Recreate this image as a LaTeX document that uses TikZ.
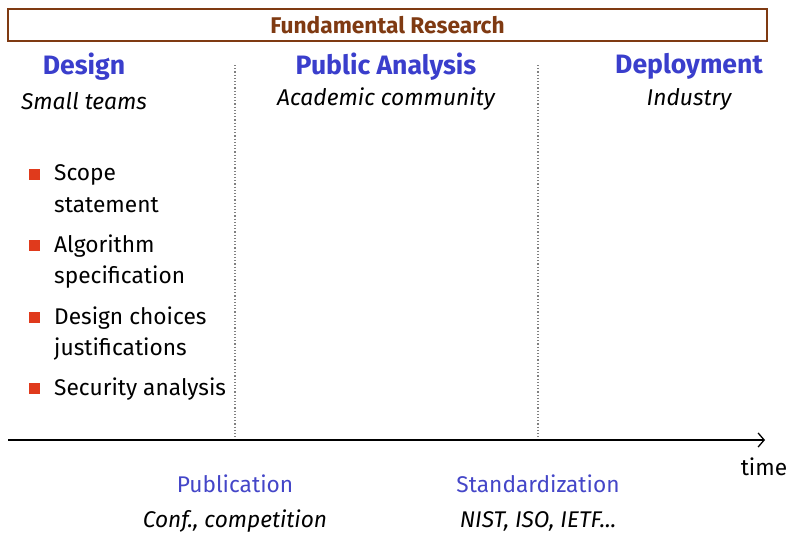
\documentclass[tikz,border=0pt]{standalone}
\usepackage{fontspec}
\setmainfont{Fira Sans}
\usetikzlibrary{arrows.meta}
\definecolor{brownc}{HTML}{7F3A12}
\definecolor{bluec}{HTML}{3A3ECC}
\definecolor{pubblue}{HTML}{4446C8}
\definecolor{redc}{HTML}{E03A1C}
\begin{document}
\begin{tikzpicture}[x=1pt,y=-1pt,
  phase/.style={font=\fontsize{26.6}{30}\selectfont\bfseries, text=bluec, inner sep=0pt},
  actor/.style={font=\fontsize{22.8}{26}\selectfont\itshape, inner sep=0pt},
  item/.style={font=\fontsize{22.7}{26}\selectfont, anchor=base west, inner sep=0pt},
  bul/.style={fill=redc, minimum size=11pt, inner sep=0pt},
  milestone/.style={font=\fontsize{22.7}{26}\selectfont, text=pubblue, inner sep=0pt},
  who/.style={font=\fontsize{22.7}{26}\selectfont\itshape, inner sep=0pt},
  sep/.style={dotted, gray, line width=1.2pt}]
\useasboundingbox (0,0) rectangle (790,533);
\node[draw=brownc, line width=1.5pt, minimum width=759pt, minimum height=32pt, inner sep=0pt,
  font=\fontsize{22.7}{26}\selectfont\bfseries, text=brownc] (fr) at (387.5,25) {Fundamental Research};
\node[phase] (design) at (84,66.5) {Design};
\node[phase] (public) at (386,66.5) {Public Analysis};
\node[phase] (deploy) at (689,66.5) {Deployment};
\node[actor] (small) at (84,101) {Small teams};
\node[actor] (acad) at (386,99.5) {Academic community};
\node[actor] (ind) at (689,99.5) {Industry};
\coordinate (s1t) at (235,65);
\coordinate (s1b) at (235,440);
\coordinate (s2t) at (538,65);
\coordinate (s2b) at (538,440);
\draw[sep] (s1t) -- (s1b);
\draw[sep] (s2t) -- (s2b);
\coordinate (ax0) at (8,440);
\coordinate (ax1) at (765,440);
\draw[line width=1.3pt, -{Straight Barb[length=6pt,width=14pt]}] (ax0) -- (ax1);
\node[font=\fontsize{22.7}{26}\selectfont, inner sep=0pt] (time) at (764,467) {time};
\node[bul] (b1) at (34,174) {};
\node[bul] (b2) at (34,245) {};
\node[bul] (b3) at (34,317) {};
\node[bul] (b4) at (34,388) {};
\node[item] (t1a) at (54,180) {Scope};
\node[item] (t1b) at (54,212) {statement};
\node[item] (t2a) at (54,252) {Algorithm};
\node[item] (t2b) at (54,283) {specification};
\node[item] (t3a) at (54,324) {Design choices};
\node[item] (t3b) at (54,355) {justifications};
\node[item] (t4) at (54,395) {Security analysis};
\node[milestone] (pub) at (235,484) {Publication};
\node[who] (conf) at (235,521) {Conf., competition};
\node[milestone] (std) at (538,484) {Standardization};
\node[who] (nist) at (538,521) {NIST, ISO, IETF...};
\end{tikzpicture}
\end{document}
